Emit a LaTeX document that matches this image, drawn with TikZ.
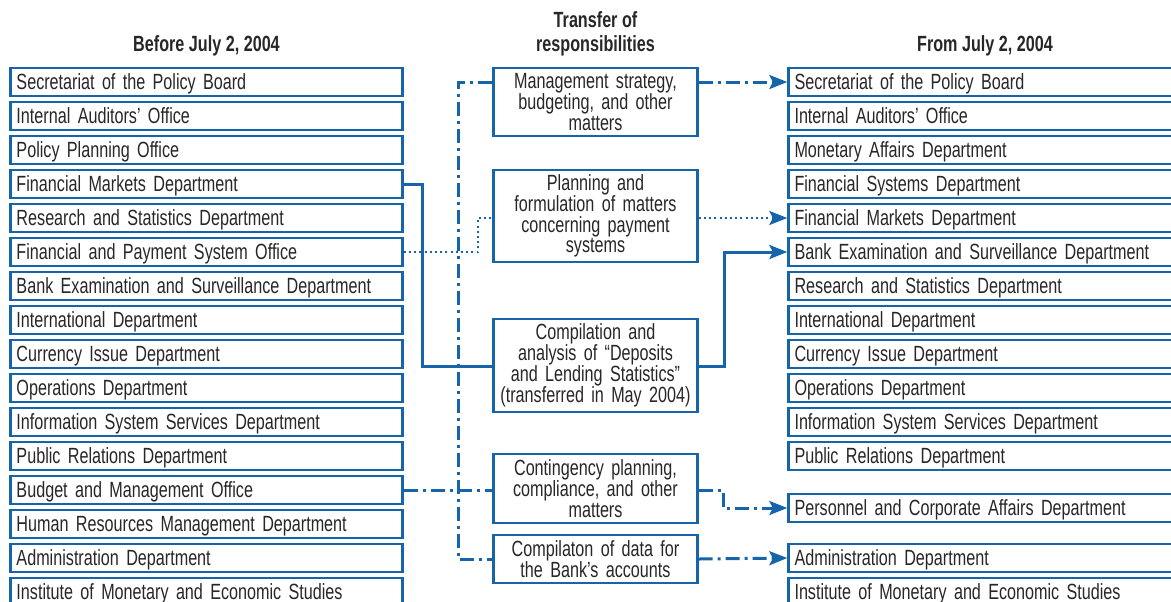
\documentclass[tikz,border=0pt]{standalone}
\usepackage{fontspec}
\setmainfont{Liberation Sans}[FakeStretch=0.735]
\usetikzlibrary{arrows.meta}
\definecolor{boj}{RGB}{22,100,170}
\definecolor{ink}{RGB}{40,38,38}

\begin{document}
\begin{tikzpicture}[x=0.5pt, y=-0.5pt, node distance=17pt, text=ink,
  dept/.style = {draw=boj, line width=1.2pt, text width=190pt, align=left, inner xsep=3pt, inner ysep=0pt, minimum height=14pt, text height=7.9pt, text depth=0pt, font=\fontsize{11}{11}\selectfont},
  task/.style = {draw=boj, line width=1.2pt, text width=100pt, align=center, inner xsep=1pt, inner ysep=0pt, font=\fontsize{11}{10.4}\selectfont},
  head/.style = {align=center, font=\fontsize{11}{12}\selectfont\bfseries},
  link/.style = {draw=boj, line width=1.5pt},
  dd/.style = {link, dash pattern=on 7pt off 2.5pt on 1.5pt off 2.5pt},
  dotline/.style = {link, line width=1.1pt, dash pattern=on 1pt off 1.6pt},
  tip/.style = {-{Stealth[length=9pt, width=7pt, inset=1.8pt]}}]
\useasboundingbox (0,0) rectangle (1171,601);

% headings
\node[head] (hl) at (206.5,46) {Before July 2, 2004};
\node[head] (hm) at (595.5,34) {Transfer of\\responsibilities};
\node[head] (hr) at (985,46) {From July 2, 2004};

% before
\node[dept] (l1) at (206.5,82) {Secretariat of the Policy Board};
\node[dept] (l2) [below of=l1] {Internal Auditors’ Office};
\node[dept] (l3) [below of=l2] {Policy Planning Office};
\node[dept] (l4) [below of=l3] {Financial Markets Department};
\node[dept] (l5) [below of=l4] {Research and Statistics Department};
\node[dept] (l6) [below of=l5] {Financial and Payment System Office};
\node[dept] (l7) [below of=l6] {Bank Examination and Surveillance Department};
\node[dept] (l8) [below of=l7] {International Department};
\node[dept] (l9) [below of=l8] {Currency Issue Department};
\node[dept] (l10) [below of=l9] {Operations Department};
\node[dept] (l11) [below of=l10] {Information System Services Department};
\node[dept] (l12) [below of=l11] {Public Relations Department};
\node[dept] (l13) [below of=l12] {Budget and Management Office};
\node[dept] (l14) [below of=l13] {Human Resources Management Department};
\node[dept] (l15) [below of=l14] {Administration Department};
\node[dept] (l16) [below of=l15] {Institute of Monetary and Economic Studies};

% from
\node[dept] (r1) at (984.5,82) {Secretariat of the Policy Board};
\node[dept] (r2) [below of=r1] {Internal Auditors’ Office};
\node[dept] (r3) [below of=r2] {Monetary Affairs Department};
\node[dept] (r4) [below of=r3] {Financial Systems Department};
\node[dept] (r5) [below of=r4] {Financial Markets Department};
\node[dept] (r6) [below of=r5] {Bank Examination and Surveillance Department};
\node[dept] (r7) [below of=r6] {Research and Statistics Department};
\node[dept] (r8) [below of=r7] {International Department};
\node[dept] (r9) [below of=r8] {Currency Issue Department};
\node[dept] (r10) [below of=r9] {Operations Department};
\node[dept] (r11) [below of=r10] {Information System Services Department};
\node[dept] (r12) [below of=r11] {Public Relations Department};
\node[dept] (r13) at (984.5,508) {Personnel and Corporate Affairs Department};
\node[dept] (r14) at (984.5,558) {Administration Department};
\node[dept] (r15) [below of=r14] {Institute of Monetary and Economic Studies};

% transfers
\node[task, minimum height=34pt] (t1) at (595.5,102) {Management strategy,\\budgeting, and other\\matters};
\node[task, minimum height=46pt] (t2) at (595.5,216) {Planning and\\formulation of matters\\concerning payment\\systems};
\node[task, minimum height=46.5pt] (t3) at (595.5,365.5) {Compilation and\\analysis of “Deposits\\and Lending Statistics”\\(transferred in May 2004)};
\node[task, minimum height=34.5pt] (t4) at (595.5,488.5) {Contingency planning,\\compliance, and other\\matters};
\node[task, minimum height=24pt] (t5) at (595.5,559) {Compilaton of data for\\the Bank’s accounts};

\coordinate (bus) at (458,490);
\coordinate (p2) at (478,218);
\coordinate (s1) at (422,366);
\coordinate (s2) at (724,252);
\coordinate (c1) at (723,508);

\draw[dd] (t1.west |- l1) -| (bus) |- (t5.west);
\draw[dd] (l13.east) -- (t4.west |- l13);
\draw[dd, tip] (t1.east |- r1) -- (r1.west);
\draw[dd, tip] (t4.east |- l13) -| (c1) -- (r13.west);
\draw[dd, tip] (t5.east) -- (r14.west);
\draw[dotline] (l6.east) -| (p2) -- (t2.west |- r5);
\draw[dotline, tip] (t2.east |- r5) -- (r5.west);
\draw[link] (l4.east) -| (s1) -- (t3.west |- s1);
\draw[link, tip] (t3.east |- s1) -| (s2) -- (r6.west);
\end{tikzpicture}
\end{document}
